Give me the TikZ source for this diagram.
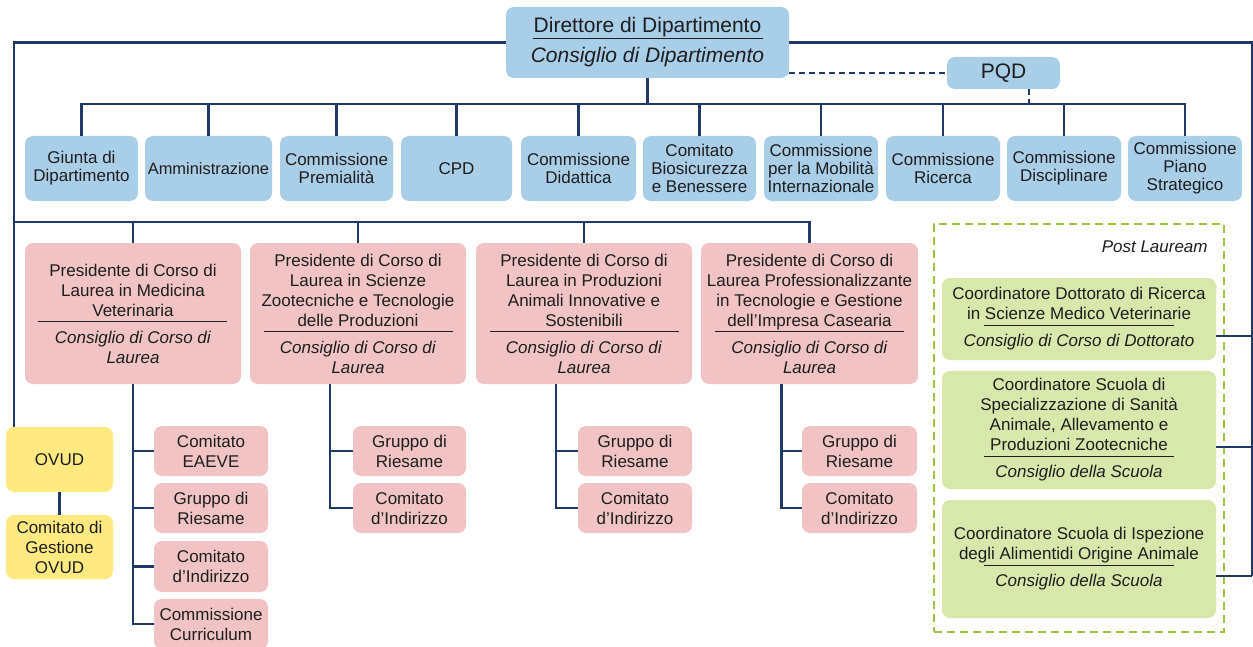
\documentclass[tikz,border=0pt]{standalone}
\usepackage{fontspec}
\setmainfont{Liberation Sans}

\definecolor{boxblue}{HTML}{A8CEE8}
\definecolor{boxpink}{HTML}{F2C3C5}
\definecolor{boxyellow}{HTML}{FFEA82}
\definecolor{boxgreen}{HTML}{D8E8AA}
\definecolor{dashgreen}{HTML}{9DC340}
\definecolor{linkblue}{HTML}{1F3A68}
\definecolor{txtgray}{HTML}{1E1E1E}

% rule between the office and its council
\newcommand{\sepline}[1]{\\[-7pt]\rule{#1}{0.6pt}\\[0.5pt]}

\begin{document}
\begin{tikzpicture}[
  x=0.5pt, y=-0.5pt,
  dims/.style 2 args={minimum width=#1*0.5pt,minimum height=#2*0.5pt},
  card/.style={rounded corners=4pt,inner sep=0pt,align=center,text=txtgray},
  topbox/.style={card,fill=boxblue,font=\fontsize{8.5}{9}\selectfont},
  presbox/.style={card,fill=boxpink,font=\fontsize{8.5}{10}\selectfont},
  ovudbox/.style={card,fill=boxyellow,font=\fontsize{8.5}{10}\selectfont},
  postbox/.style={card,fill=boxgreen,font=\fontsize{8.5}{10}\selectfont},
  postframe/.style={draw=dashgreen,line width=1.2pt,dash pattern=on 4pt off 2.5pt,inner sep=0pt},
  link/.style={draw=linkblue,line width=1.1pt},
  dashlink/.style={link,dash pattern=on 3pt off 2pt},
]

\useasboundingbox (0,0) rectangle (1253,647);

% Head of department
\node[topbox,dims={283}{71},font=\fontsize{10.5}{15}\selectfont] (dir) at (647.5,42.5)
  {Direttore di Dipartimento\\[-12pt]\rule{115pt}{0.6pt}\\[-3pt]\textit{Consiglio di Dipartimento}};
\node[topbox,dims={113}{32},font=\fontsize{10.5}{12}\selectfont] (pqd) at (1003.5,73) {PQD};

% Committees
\node[topbox,dims={113}{65}] (giunta) at (81.5,168.5) {Giunta di\\Dipartimento};
\node[topbox,dims={127}{65},font=\fontsize{8.2}{9}\selectfont] (ammin) at (208.5,168.5) {Amministrazione};
\node[topbox,dims={113}{65}] (premi) at (336.5,168.5) {Commissione\\Premialità};
\node[topbox,dims={111}{65}] (cpd) at (456.5,168.5) {CPD};
\node[topbox,dims={115}{65}] (didat) at (578.5,168.5) {Commissione\\Didattica};
\node[topbox,dims={113}{65}] (biosic) at (699.5,168.5) {Comitato\\Biosicurezza\\e Benessere};
\node[topbox,dims={114}{65}] (mobil) at (821,168.5) {Commissione\\per la Mobilità\\Internazionale};
\node[topbox,dims={114}{65}] (ricer) at (943,168.5) {Commissione\\Ricerca};
\node[topbox,dims={114}{65}] (disc) at (1064,168.5) {Commissione\\Disciplinare};
\node[topbox,dims={114}{65}] (piano) at (1185,168.5) {Commissione\\Piano\\Strategico};

% Degree courses
\node[presbox,dims={216}{141}] (pres1) at (133,313.5)
  {Presidente di Corso di\\Laurea in Medicina\\Veterinaria\sepline{94.5pt}\textit{Consiglio di Corso di}\\\textit{Laurea}};
\node[presbox,dims={216}{141}] (pres2) at (358,313.5)
  {Presidente di Corso di\\Laurea in Scienze\\Zootecniche e Tecnologie\\delle Produzioni\sepline{94.5pt}\textit{Consiglio di Corso di}\\\textit{Laurea}};
\node[presbox,dims={216}{141}] (pres3) at (584,313.5)
  {Presidente di Corso di\\Laurea in Produzioni\\Animali Innovative e\\Sostenibili\sepline{94.5pt}\textit{Consiglio di Corso di}\\\textit{Laurea}};
\node[presbox,dims={217}{141}] (pres4) at (809.5,313.5)
  {Presidente di Corso di\\Laurea Professionalizzante\\in Tecnologie e Gestione\\dell'Impresa Casearia\sepline{94.5pt}\textit{Consiglio di Corso di}\\\textit{Laurea}};

% Course bodies
\node[presbox,dims={114}{50}] (eaeve) at (211,451) {Comitato\\EAEVE};
\node[presbox,dims={114}{50}] (gr1) at (211,508) {Gruppo di\\Riesame};
\node[presbox,dims={114}{51}] (ci1) at (211,566.5) {Comitato\\d'Indirizzo};
\node[presbox,dims={114}{50}] (curr) at (211,624) {Commissione\\Curriculum};
\node[presbox,dims={113}{50}] (gr2) at (409.5,451) {Gruppo di\\Riesame};
\node[presbox,dims={113}{50}] (ci2) at (409.5,508) {Comitato\\d'Indirizzo};
\node[presbox,dims={114}{50}] (gr3) at (635,451) {Gruppo di\\Riesame};
\node[presbox,dims={114}{50}] (ci3) at (635,508) {Comitato\\d'Indirizzo};
\node[presbox,dims={115}{50}] (gr4) at (859.5,451) {Gruppo di\\Riesame};
\node[presbox,dims={115}{50}] (ci4) at (859.5,508) {Comitato\\d'Indirizzo};

% OVUD
\node[ovudbox,dims={107}{65}] (ovud) at (59.5,459.5) {OVUD};
\node[ovudbox,dims={107}{64}] (cgo) at (59.5,547) {Comitato di\\Gestione\\OVUD};

% Post Lauream
\node[postframe,dims={290}{408}] (post) at (1079,428) {};
\node[card,anchor=east,font=\fontsize{8.5}{10}\selectfont\itshape] (postlbl) at (1208,247) {Post Lauream};
\node[postbox,dims={274}{82}] (g1) at (1079,319)
  {Coordinatore Dottorato di Ricerca\\in Scienze Medico Veterinarie\sepline{95pt}\textit{Consiglio di Corso di Dottorato}};
\node[postbox,dims={274}{118}] (g2) at (1079,430)
  {Coordinatore Scuola di\\Specializzazione di Sanità\\Animale, Allevamento e\\Produzioni Zootecniche\sepline{95pt}\textit{Consiglio della Scuola}};
\node[postbox,dims={274}{118}] (g3) at (1079,559)
  {Coordinatore Scuola di Ispezione\\degli Alimentidi Origine Animale\sepline{95pt}\textit{Consiglio della Scuola}};

% Connectors
\coordinate (lft) at (14,0);
\coordinate (rgt) at (1252,0);
\coordinate (bus2) at (14,222);

\foreach \c in {giunta,ammin,premi,cpd,didat,biosic,mobil,ricer,disc,piano}
  \draw[link] (dir.south) -- ++(0,26) -| (\c.north);
\draw[dashlink] (dir.east |- pqd.west) -- (pqd.west);
\draw[dashlink] ([xshift=12.75pt]pqd.south) -- ++(0,15);

\draw[link] (dir.west) -| (lft |- ovud.north);
\foreach \p in {pres1,pres2,pres3,pres4}
  \draw[link] (bus2) -| (\p.north);
\foreach \s in {eaeve,gr1,ci1,curr}
  \draw[link] (pres1.south) |- (\s.west);
\foreach \p/\s in {pres2/gr2,pres2/ci2,pres3/gr3,pres3/ci3,pres4/gr4,pres4/ci4}
  \draw[link] ([xshift=-14pt]\p.south) |- (\s.west);
\draw[link] (ovud.south) -- (cgo.north);

\foreach \g in {g1,g2,g3}{
  \coordinate (\g-c) at ([yshift=-8.5pt]\g.east);
  \draw[link] (\g-c) -- (rgt |- \g-c);
}
\draw[link] (dir.east) -| (rgt |- g3-c);

\end{tikzpicture}
\end{document}
